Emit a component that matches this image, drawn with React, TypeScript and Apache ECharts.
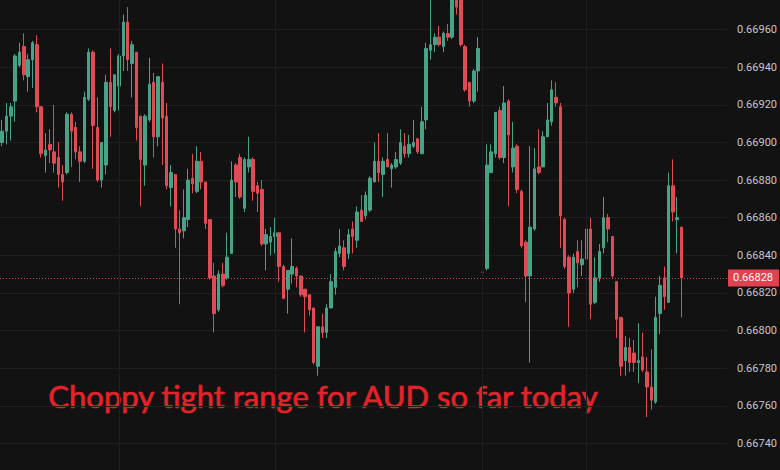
import React, { useEffect, useRef } from 'react';
import * as echarts from 'echarts';

// Prices in units of 0.00001 (e.g. 66900 = 0.66900)
const opens = [
  66900, 66906, 66914, 66922, 66941, 66951, 66935, 66944, 66952, 66919,
  66893, 66899, 66895, 66892, 66883, 66884, 66915, 66908, 66895, 66890,
  66923, 66948, 66908, 66880, 66888, 66932, 66917, 66930, 66946, 66964,
  66942, 66948, 66914, 66888, 66912, 66932, 66903, 66932, 66914, 66876,
  66883, 66854, 66853, 66859, 66881, 66874, 66890, 66879, 66859, 66829,
  66811, 66830, 66828, 66841, 66888, 66892, 66865, 66887, 66891, 66877,
  66875, 66846, 66847, 66850, 66852, 66834, 66822, 66830, 66833, 66829,
  66822, 66819, 66812, 66781, 66802, 66799, 66812, 66823, 66841, 66844,
  66841, 66854, 66848, 66864, 66861, 66864, 66879, 66890, 66883, 66891,
  66886, 66887, 66889, 66898, 66894, 66898, 66902, 66894, 66912, 66949,
  66952, 66956, 66951, 66958, 66956, 66978, 66976, 66951, 66932, 66922,
  66938, 66831, 66833, 66884, 66894, 66917, 66892, 66922, 66887, 66898,
  66874, 66847, 66829, 66854, 66887, 66887, 66903, 66911, 66924, 66919,
  66859, 66839, 66822, 66842, 66835, 66838, 66854, 66815, 66828, 66844,
  66860, 66850, 66826, 66807, 66784, 66791, 66788, 66783, 66786, 66778,
  66770, 66762, 66809, 66828, 66815, 66877, 66859, 66855,
];
const closes = [
  66906, 66914, 66919, 66946, 66948, 66936, 66944, 66953, 66919, 66894,
  66896, 66896, 66889, 66883, 66879, 66915, 66906, 66895, 66890, 66924,
  66948, 66909, 66880, 66900, 66932, 66919, 66936, 66946, 66964, 66944,
  66952, 66908, 66891, 66914, 66931, 66903, 66935, 66913, 66877, 66884,
  66854, 66852, 66860, 66880, 66878, 66890, 66879, 66857, 66828, 66809,
  66830, 66824, 66839, 66880, 66879, 66871, 66891, 66891, 66874, 66873,
  66846, 66851, 66850, 66852, 66834, 66817, 66832, 66834, 66829, 66819,
  66818, 66811, 66783, 66802, 66799, 66812, 66826, 66842, 66845, 66834,
  66851, 66850, 66863, 66858, 66872, 66881, 66890, 66884, 66890, 66887,
  66888, 66891, 66900, 66894, 66899, 66900, 66895, 66911, 66950, 66952,
  66956, 66952, 66958, 66956, 66980, 66972, 66952, 66928, 66922, 66938,
  66950, 66831, 66888, 66895, 66916, 66892, 66921, 66904, 66897, 66875,
  66845, 66829, 66855, 66886, 66884, 66903, 66912, 66928, 66921, 66861,
  66834, 66820, 66839, 66836, 66838, 66854, 66814, 66828, 66842, 66860,
  66854, 66829, 66806, 66781, 66791, 66783, 66783, 66784, 66779, 66770,
  66763, 66807, 66824, 66818, 66877, 66863, 66860, 66828,
];
const lows = [
  66898, 66899, 66901, 66911, 66940, 66933, 66927, 66929, 66916, 66892,
  66884, 66889, 66884, 66876, 66869, 66883, 66887, 66891, 66879, 66889,
  66922, 66886, 66879, 66876, 66883, 66903, 66916, 66917, 66938, 66938,
  66924, 66901, 66866, 66877, 66911, 66892, 66898, 66888, 66875, 66866,
  66844, 66814, 66849, 66855, 66873, 66873, 66875, 66854, 66827, 66799,
  66810, 66823, 66827, 66841, 66871, 66870, 66863, 66884, 66869, 66863,
  66845, 66832, 66840, 66841, 66826, 66817, 66809, 66825, 66823, 66818,
  66799, 66808, 66782, 66776, 66796, 66796, 66812, 66819, 66839, 66832,
  66838, 66841, 66844, 66858, 66859, 66863, 66879, 66879, 66871, 66887,
  66876, 66886, 66888, 66892, 66892, 66897, 66894, 66894, 66907, 66944,
  66948, 66951, 66948, 66954, 66955, 66968, 66951, 66927, 66919, 66921,
  66927, 66830, 66832, 66884, 66892, 66891, 66889, 66866, 66884, 66873,
  66844, 66815, 66783, 66853, 66883, 66887, 66903, 66909, 66919, 66844,
  66833, 66802, 66820, 66823, 66829, 66820, 66806, 66814, 66826, 66841,
  66847, 66828, 66796, 66776, 66776, 66778, 66778, 66772, 66778, 66754,
  66758, 66761, 66798, 66811, 66815, 66858, 66841, 66807,
];
const highs = [
  66912, 66921, 66921, 66947, 66953, 66958, 66947, 66954, 66957, 66919,
  66905, 66907, 66920, 66900, 66888, 66916, 66916, 66911, 66898, 66927,
  66950, 66949, 66924, 66900, 66936, 66950, 66936, 66947, 66968, 66972,
  66954, 66948, 66914, 66915, 66945, 66937, 66935, 66942, 66921, 66888,
  66883, 66864, 66875, 66886, 66894, 66898, 66895, 66879, 66859, 66836,
  66832, 66836, 66852, 66890, 66889, 66894, 66892, 66903, 66892, 66879,
  66880, 66854, 66855, 66860, 66852, 66835, 66832, 66849, 66834, 66829,
  66822, 66819, 66812, 66802, 66809, 66814, 66830, 66844, 66854, 66848,
  66854, 66858, 66866, 66872, 66874, 66882, 66900, 66905, 66892, 66905,
  66889, 66895, 66907, 66905, 66904, 66912, 66902, 66919, 66953, 66980,
  66958, 66962, 66959, 66963, 66982, 66982, 66978, 66952, 66932, 66939,
  66956, 66832, 66899, 66899, 66916, 66919, 66930, 66923, 66911, 66899,
  66875, 66848, 66898, 66897, 66907, 66906, 66921, 66933, 66932, 66921,
  66860, 66840, 66841, 66848, 66848, 66864, 66860, 66839, 66846, 66871,
  66862, 66850, 66826, 66807, 66797, 66796, 66795, 66804, 66799, 66786,
  66790, 66818, 66829, 66834, 66884, 66891, 66871, 66855,
];

const PRICE_UNIT = 100000;
const EMPTY_SLOTS_RIGHT = 10;
const LAST_PRICE = 66828;
const Y_MIN = 0.6672;
const Y_MAX = 0.6698;
const Y_INTERVAL = 0.0002;
const SESSION_BREAKS = [27, 63, 111, 135];
const ANNOTATION = 'Choppy tight range for AUD so far today';

const UP = '#47a388';
const DOWN = '#e04b55';
const OFFSET_TOP = 7.6; // chart div is taller than the page; its top/bottom ticks fall outside

export default function App() {
  const ref = useRef<HTMLDivElement>(null);

  useEffect(() => {
    document.body.style.margin = '0';
    const chart = echarts.init(ref.current as HTMLDivElement, null, { renderer: 'svg' });
    const n = opens.length + EMPTY_SLOTS_RIGHT;
    const categories = Array.from({ length: n }, (_, i) => String(i));
    const data = opens.map((o, i) => [
      o / PRICE_UNIT,
      closes[i] / PRICE_UNIT,
      lows[i] / PRICE_UNIT,
      highs[i] / PRICE_UNIT,
    ]);
    const blank = categories.map(() => '-');

    chart.setOption({
      animation: false,
      backgroundColor: '#121212',
      grid: { left: 0, right: 53, top: 0, bottom: 0, containLabel: false },
      xAxis: {
        type: 'category',
        data: categories,
        boundaryGap: true,
        axisLine: { show: false },
        axisTick: { show: false },
        axisLabel: { show: false },
        splitLine: { show: false },
      },
      yAxis: {
        type: 'value',
        position: 'right',
        min: Y_MIN,
        max: Y_MAX,
        interval: Y_INTERVAL,
        axisLine: { show: false },
        axisTick: { show: false },
        axisLabel: {
          margin: 10,
          color: '#c4c7cd',
          fontFamily: 'Roboto',
          fontSize: 11,
          showMinLabel: false,
          showMaxLabel: false,
          formatter: (v: number) => v.toFixed(5),
        },
        splitLine: { lineStyle: { color: '#1f1f1f', width: 1 } },
      },
      series: [
        {
          type: 'line',
          data: blank,
          z: 1,
          silent: true,
          markLine: {
            symbol: 'none',
            silent: true,
            label: { show: false },
            lineStyle: { color: '#1f1f1f', type: 'solid', width: 1 },
            data: SESSION_BREAKS.map((i) => ({ xAxis: String(i) })),
          },
        },
        {
          type: 'candlestick',
          z: 2,
          data,
          barWidth: 3,
          itemStyle: {
            color: UP,
            color0: DOWN,
            borderColor: UP,
            borderColor0: DOWN,
            borderWidth: 1,
          },
        },
        {
          type: 'line',
          data: blank,
          z: 3,
          silent: true,
          markLine: {
            symbol: 'none',
            silent: true,
            precision: 5,
            data: [{ yAxis: LAST_PRICE / PRICE_UNIT }],
            lineStyle: { color: '#c04a4e', type: [1, 2], width: 1 },
            label: {
              show: true,
              position: 'end',
              distance: 1,
              formatter: (LAST_PRICE / PRICE_UNIT).toFixed(5),
              color: '#ffffff',
              backgroundColor: '#e0434f',
              padding: [3, 6, 3, 5],
              fontFamily: 'Roboto',
              fontSize: 11,
            },
          },
        },
      ],
      graphic: [
        {
          type: 'text',
          left: 48,
          top: 381 + OFFSET_TOP,
          style: {
            text: ANNOTATION,
            fill: '#e3232a',
            stroke: '#e3232a',
            lineWidth: 0.7,
            font: '31px Lato',
          },
        },
      ],
    });

    return () => chart.dispose();
  }, []);

  return (
    <div style={{ position: 'relative', width: 780, height: 470, overflow: 'hidden' }}>
      <div
        ref={ref}
        style={{ position: 'absolute', left: 0, top: -OFFSET_TOP, width: 780, height: 470 + OFFSET_TOP + 11.6 }}
      />
    </div>
  );
}
